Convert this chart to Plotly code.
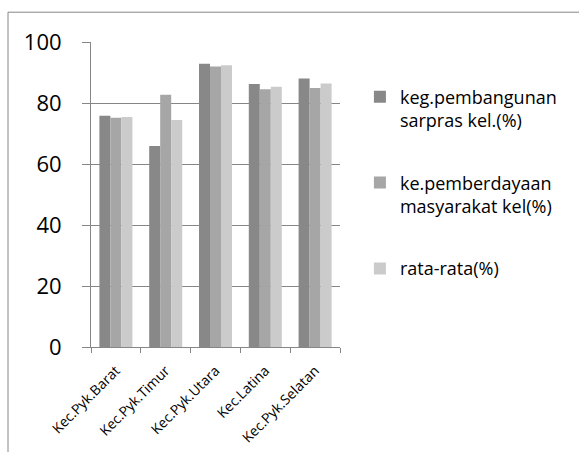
import plotly.graph_objects as go

categories = ["Kec.Pyk.Barat", "Kec.Pyk.Timur", "Kec.Pyk.Utara", "Kec.Latina", "Kec.Pyk.Selatan"]
series_names = ["keg.pembangunan<br>sarpras kel.(%)", "ke.pemberdayaan<br>masyarakat kel(%)", "rata-rata(%)"]
pembangunan = [75.8, 65.9, 92.9, 86.2, 88.0]
pemberdayaan = [75.2, 82.7, 92.0, 84.5, 84.9]
rata_rata = [75.4, 74.4, 92.4, 85.3, 86.4]
y_ticks = [0, 20, 40, 60, 80, 100]

colors = ["#888888", "#a6a6a6", "#cbcbcb"]
values = [pembangunan, pemberdayaan, rata_rata]

fig = go.Figure()
for i, (name, vals, col) in enumerate(zip(series_names, values, colors)):
    fig.add_trace(go.Bar(x=categories, y=vals, name=name, marker_color=col,
                         marker_line_width=0, legendgroup=f"g{i}"))

font_family = "Open Sans, Noto Sans, sans-serif"
fig.update_layout(
    width=579, height=452,
    margin=dict(l=91, r=239, t=42, b=105),
    paper_bgcolor="white", plot_bgcolor="white",
    barmode="group", bargap=0.337, bargroupgap=0,
    font=dict(family=font_family, color="#000000"),
    showlegend=True,
    legend=dict(x=1.08, xanchor="left", y=0.88, yanchor="top",
                font=dict(size=18, color="#000000"), valign="top",
                tracegroupgap=36, bgcolor="rgba(0,0,0,0)", itemwidth=30),
    xaxis=dict(type="category", showline=True, linecolor="#868686", linewidth=1,
               ticks="outside", tickson="boundaries", ticklen=5, tickcolor="#868686",
               tickangle=-45, tickfont=dict(size=14, color="#000000"), showgrid=False,
               ticklabelstandoff=9, automargin=False),
    yaxis=dict(range=[0, 100], tickvals=y_ticks, showline=True, linecolor="#868686",
               linewidth=1, ticks="outside", ticklen=8, tickcolor="#868686",
               showgrid=True, gridcolor="#868686", gridwidth=1, zeroline=False,
               tickfont=dict(size=22, color="#000000"), ticklabelstandoff=16,
               automargin=False),
    shapes=[dict(type="rect", xref="paper", yref="paper",
                 x0=(8 - 91) / 249, x1=(600 - 91) / 249,
                 y0=(347.3 - 470) / 305, y1=(347.3 - 12.5) / 305,
                 line=dict(color="#868686", width=1), fillcolor="rgba(0,0,0,0)", layer="below")],
)

fig.write_html("out.html")
